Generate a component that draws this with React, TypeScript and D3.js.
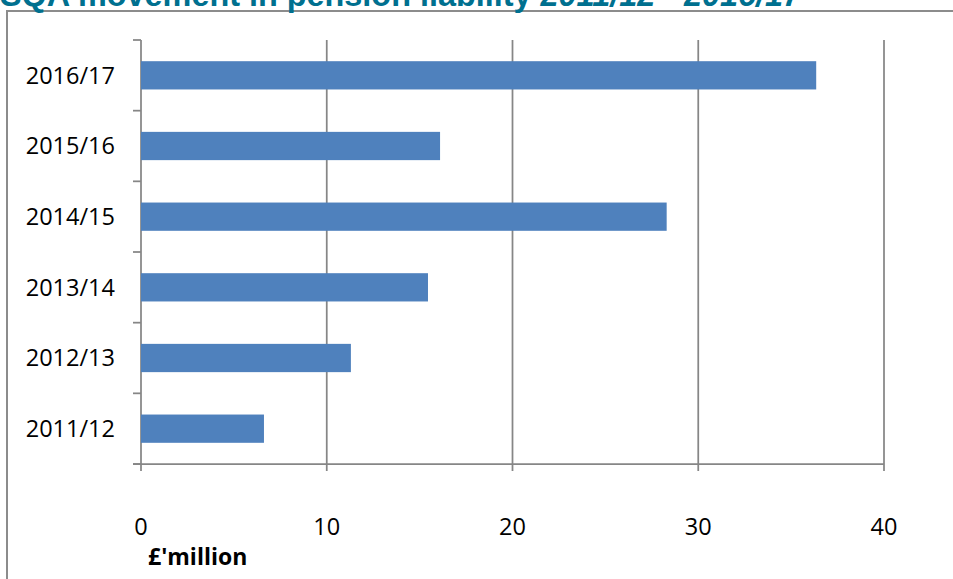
import React from "react";
import * as d3 from "d3";

const categories = ["2011/12", "2012/13", "2013/14", "2014/15", "2015/16", "2016/17"];
const values = [6.62, 11.3, 15.45, 28.3, 16.1, 36.35];
const xTicks = [0, 10, 20, 30, 40];
const title = "SQA movement in pension liability ";
const titleYears = "2011/12 - 2016/17";
const axisTitle = "£'million";

export default function App() {
  const W = 953, H = 579;
  const left = 141, right = 884, top = 40, bottom = 464;
  const x = d3.scaleLinear().domain([0, 40]).range([left, right]);
  const y = d3.scaleBand().domain([...categories].reverse()).range([top, bottom]).paddingInner(0.6).paddingOuter(0.3);
  const band = (bottom - top) / categories.length;
  const gridColor = "#868686";
  const font = "'Open Sans', sans-serif";
  return (
    <svg width={W} height={H} style={{ position: "absolute", left: 0, top: 0, background: "#fff" }}>
      <rect x={7} y={11} width={W} height={H} fill="none" stroke="#8c8c8c" strokeWidth={2} />
      <text x={0} y={6} fill="#00708f" fontFamily="'Liberation Sans', Arial, sans-serif" fontWeight="bold" fontSize={32.4}>
        {title}
        <tspan fontStyle="italic">{titleYears}</tspan>
      </text>
      {xTicks.map((t) => (
        <line key={"g" + t} x1={x(t)} x2={x(t)} y1={top} y2={bottom + 7} stroke={gridColor} strokeWidth={1.75} />
      ))}
      <line x1={left - 8} x2={right} y1={bottom} y2={bottom} stroke={gridColor} strokeWidth={1.75} />
      {d3.range(categories.length + 1).map((i) => (
        <line key={"t" + i} x1={left - 8} x2={left} y1={top + i * band} y2={top + i * band} stroke={gridColor} strokeWidth={1.75} />
      ))}
      {categories.map((c, i) => (
        <rect key={c} x={x(0)} y={y(c)!} width={x(values[i]) - x(0)} height={y.bandwidth()} fill="#4f81bd" />
      ))}
      {categories.map((c) => (
        <text key={"l" + c} x={115} y={y(c)! + y.bandwidth() / 2} dy="0.36em" textAnchor="end" fontFamily={font} fontSize={23.5} fill="#000">
          {c}
        </text>
      ))}
      {xTicks.map((t) => (
        <text key={"x" + t} x={x(t)} y={535} textAnchor="middle" fontFamily={font} fontSize={23.5} fill="#000">
          {t}
        </text>
      ))}
      <text x={148} y={565} fontFamily={font} fontWeight="bold" fontSize={23} fill="#000">
        {axisTitle}
      </text>
    </svg>
  );
}
